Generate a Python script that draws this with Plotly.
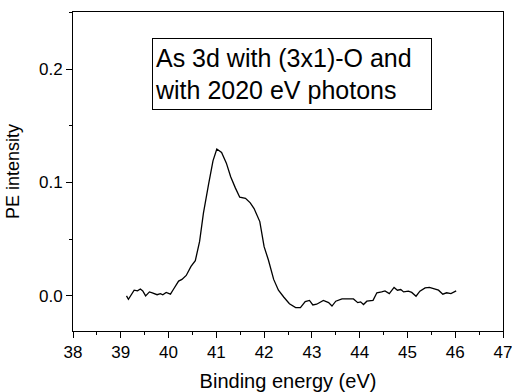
import plotly.graph_objects as go

energy = [39.12, 39.16, 39.28, 39.35, 39.41, 39.46, 39.52, 39.6, 39.66, 39.76, 39.83, 39.88,
          39.95, 40.04, 40.1, 40.21, 40.28, 40.37, 40.47, 40.56, 40.65, 40.73, 40.84, 40.93,
          41.01, 41.11, 41.21, 41.3, 41.4, 41.49, 41.61, 41.71, 41.79, 41.91, 42.0, 42.09,
          42.2, 42.3, 42.41, 42.53, 42.66, 42.76, 42.86, 42.95, 43.02, 43.1, 43.24, 43.35,
          43.42, 43.5, 43.63, 43.75, 43.87, 43.96, 44.02, 44.08, 44.15, 44.28, 44.36, 44.46,
          44.53, 44.62, 44.72, 44.79, 44.86, 44.92, 45.02, 45.09, 45.18, 45.26, 45.37, 45.46,
          45.58, 45.65, 45.74, 45.82, 45.91, 46.02]
intensity = [0.0, -0.003, 0.005, 0.0044, 0.006, 0.0044, 0.0, 0.0035, 0.0027, 0.001, 0.002, 0.0009,
             0.003, 0.0015, 0.0056, 0.013, 0.0145, 0.018, 0.026, 0.031, 0.048, 0.073, 0.099, 0.119,
             0.1295, 0.1265, 0.117, 0.105, 0.095, 0.087, 0.086, 0.082, 0.077, 0.0655, 0.0434, 0.0316,
             0.0145, 0.005, -0.001, -0.007, -0.0103, -0.0103, -0.005, -0.004, -0.008, -0.0074, -0.004, -0.006,
             -0.009, -0.0047, -0.0027, -0.0027, -0.0027, -0.006, -0.0053, -0.0077, -0.0047, -0.004, 0.0027, 0.0035,
             0.0044, 0.002, 0.0074, 0.005, 0.0056, 0.0035, 0.0041, 0.003, -0.0003, 0.0041, 0.007, 0.0074,
             0.006, 0.005, 0.0015, 0.0027, 0.002, 0.0044]

x_ticks = [38, 39, 40, 41, 42, 43, 44, 45, 46, 47]
y_ticks = [0.0, 0.1, 0.2]
y_tick_labels = ["0.0", "0.1", "0.2"]

label_text = "As 3d with (3x1)-O and<br>with 2020 eV photons"

FONT = "Liberation Sans, Arial, sans-serif"

fig = go.Figure()
fig.add_trace(go.Scatter(x=energy, y=intensity, mode="lines",
                         line=dict(color="black", width=1.3), showlegend=False))

axis_common = dict(
    showgrid=False, zeroline=False, showline=True, linecolor="black", linewidth=1,
    mirror=True, ticks="outside", ticklen=6, tickwidth=1, tickcolor="black",
    tickfont=dict(family=FONT, size=17, color="black"), automargin=False,
    ticklabeloverflow="allow",
)

fig.update_xaxes(range=[38, 47], tickvals=x_ticks,
                 minor=dict(ticks="outside", ticklen=3, tickcolor="black", dtick=0.5, tick0=38),
                 title=dict(text="Binding energy (eV)", standoff=13,
                            font=dict(family=FONT, size=20, color="black")),
                 **axis_common)
fig.update_yaxes(range=[-0.031, 0.2503], tickvals=y_ticks, ticktext=y_tick_labels,
                 minor=dict(ticks="outside", ticklen=3, tickcolor="black", dtick=0.05, tick0=0),
                 title=dict(text="PE intensity", standoff=14,
                            font=dict(family=FONT, size=18, color="black")),
                 **axis_common)

fig.add_annotation(x=42.59, y=0.196, xref="x", yref="y", text=label_text, showarrow=False,
                   align="left", width=274, height=66, borderpad=2,
                   bordercolor="black", borderwidth=1, bgcolor="white",
                   font=dict(family=FONT, size=25, color="black"))

fig.update_layout(width=512, height=392, margin=dict(l=73, r=9, t=12, b=61),
                  plot_bgcolor="white", paper_bgcolor="white")

fig.write_html("out.html")
